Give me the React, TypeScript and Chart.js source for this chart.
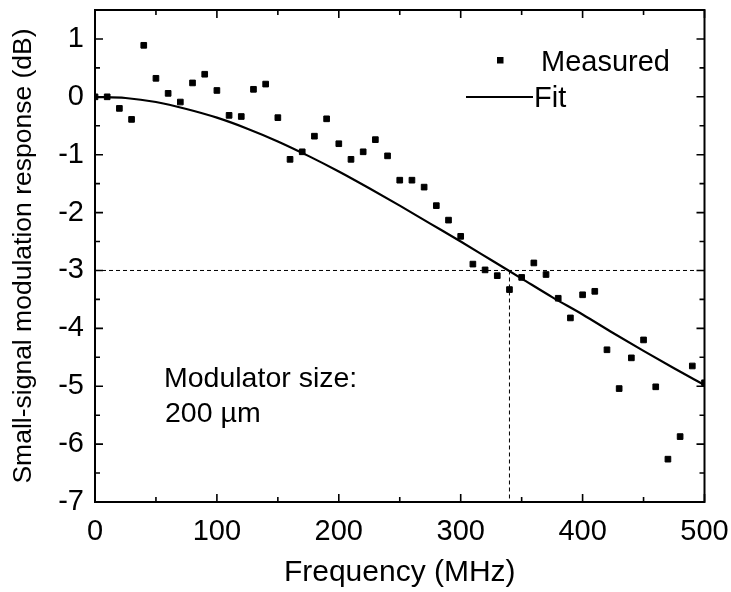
import React, { useEffect, useRef } from "react";
import { Chart, registerables } from "chart.js";

Chart.register(...registerables);

// ---- Data ----
const freqMHz = [
  0, 10, 20, 30, 40, 50, 60, 70, 80, 90,
  100, 110, 120, 130, 140, 150, 160, 170, 180, 190,
  200, 210, 220, 230, 240, 250, 260, 270, 280, 290,
  300, 310, 320, 330, 340, 350, 360, 370, 380, 390,
  400, 410, 420, 430, 440, 450, 460, 470, 480, 490, 500,
];
const measuredDb = [
  0.0, 0.0, -0.2, -0.39, 0.89, 0.32, 0.06, -0.09, 0.24, 0.39,
  0.11, -0.32, -0.34, 0.13, 0.22, -0.36, -1.08, -0.95, -0.68, -0.38,
  -0.81, -1.08, -0.95, -0.74, -1.02, -1.44, -1.44, -1.56, -1.88, -2.13,
  -2.41, -2.89, -2.99, -3.09, -3.33, -3.12, -2.87, -3.07, -3.48, -3.82,
  -3.42, -3.36, -4.37, -5.04, -4.51, -4.2, -5.01, -6.26, -5.87, -4.65, -4.94,
];
const fitFreqMHz = [
  0, 25, 50, 75, 100, 125, 150, 175, 200, 225, 250,
  275, 300, 325, 350, 375, 400, 425, 450, 475, 500,
];
const fitDb = [
  0, -0.02, -0.09, -0.21, -0.36, -0.55, -0.77, -1.02, -1.29, -1.58, -1.88,
  -2.19, -2.5, -2.82, -3.14, -3.46, -3.76, -4.08, -4.39, -4.69, -4.98,
];
const cutoffFreqMHz = 340;
const cutoffDb = -3;

const xMajorTicks = [0, 100, 200, 300, 400, 500];
const xMinorTicks = [50, 150, 250, 350, 450];
const yMajorTicks = [1, 0, -1, -2, -3, -4, -5, -6, -7];
const yMinorTicks = [1.5, 0.5, -0.5, -1.5, -2.5, -3.5, -4.5, -5.5, -6.5];

const X_MIN = 0;
const X_MAX = 500;
const Y_MIN = -7;
const Y_MAX = 1.5;

const FONT = "'Liberation Sans', Arial, Helvetica, sans-serif";

const framePlugin = {
  id: "frame",
  afterDatasetsDraw(chart: any) {
    const { ctx, chartArea, scales } = chart;
    const { left, right, top, bottom } = chartArea;
    const xs = scales.x;
    const ys = scales.y;
    ctx.save();
    ctx.strokeStyle = "#000";
    ctx.lineWidth = 2;
    ctx.lineCap = "butt";
    ctx.strokeRect(left, top, right - left, bottom - top);

    const major = 8;
    const minor = 5;
    ctx.lineWidth = 1.6;
    ctx.beginPath();
    const xt = (v: number, len: number) => {
      const px = xs.getPixelForValue(v);
      ctx.moveTo(px, bottom);
      ctx.lineTo(px, bottom - len);
      ctx.moveTo(px, top);
      ctx.lineTo(px, top + len);
    };
    const yt = (v: number, len: number) => {
      const py = ys.getPixelForValue(v);
      ctx.moveTo(left, py);
      ctx.lineTo(left + len, py);
      ctx.moveTo(right, py);
      ctx.lineTo(right - len, py);
    };
    xMajorTicks.forEach((v) => xt(v, major));
    xMinorTicks.forEach((v) => xt(v, minor));
    yMajorTicks.forEach((v) => yt(v, major));
    yMinorTicks.forEach((v) => yt(v, minor));
    ctx.stroke();

    // legend
    ctx.fillStyle = "#000";
    ctx.font = `29px ${FONT}`;
    ctx.textBaseline = "alphabetic";
    ctx.textAlign = "left";
    ctx.fillRect(497, 57, 6.5, 6.5);
    ctx.fillText("Measured", 541, 71);
    ctx.lineWidth = 2;
    ctx.beginPath();
    ctx.moveTo(466, 97);
    ctx.lineTo(533, 97);
    ctx.stroke();
    ctx.fillText("Fit", 534, 107);

    // annotation
    ctx.font = `28.5px ${FONT}`;
    ctx.fillText("Modulator size:", 164, 387);
    ctx.fillText("200 \u00b5m", 165, 422);
    ctx.restore();
  },
};

export default function App() {
  const ref = useRef<HTMLCanvasElement | null>(null);

  useEffect(() => {
    const canvas = ref.current;
    if (!canvas) return;
    const measured = freqMHz.map((f, i) => ({ x: f, y: measuredDb[i] }));
    const fit = fitFreqMHz.map((f, i) => ({ x: f, y: fitDb[i] }));
    const hLine = [
      { x: X_MIN, y: cutoffDb },
      { x: X_MAX, y: cutoffDb },
    ];
    const vLine = [
      { x: cutoffFreqMHz, y: cutoffDb },
      { x: cutoffFreqMHz, y: Y_MIN },
    ];

    const chart = new Chart(canvas, {
      type: "scatter",
      data: {
        datasets: [
          {
            label: "cutoff-h",
            data: hLine,
            showLine: true,
            borderColor: "#000",
            borderWidth: 1,
            borderDash: [4, 3],
            pointRadius: 0,
          },
          {
            label: "cutoff-v",
            data: vLine,
            showLine: true,
            borderColor: "#000",
            borderWidth: 1,
            borderDash: [4, 3],
            pointRadius: 0,
          },
          {
            label: "Fit",
            data: fit,
            showLine: true,
            borderColor: "#000",
            borderWidth: 2.2,
            pointRadius: 0,
            cubicInterpolationMode: "monotone",
          },
          {
            label: "Measured",
            data: measured,
            showLine: false,
            pointStyle: "rect",
            pointRadius: 4,
            pointBorderWidth: 1,
            pointBackgroundColor: "#000",
            pointBorderColor: "#000",
          },
        ],
      } as any,
      options: {
        animation: false,
        responsive: false,
        maintainAspectRatio: false,
        layout: { padding: { left: 0, top: 10, right: 26.5, bottom: 0 } },
        plugins: {
          legend: { display: false },
          tooltip: { enabled: false },
        },
        scales: {
          x: {
            type: "linear",
            min: X_MIN,
            max: X_MAX,
            grid: { display: false, drawTicks: false },
            border: { display: false },
            ticks: {
              padding: 13,
              color: "#000",
              font: { family: FONT, size: 29 },
              maxRotation: 0,
              callback: (v: any) => String(v),
            },
            afterBuildTicks: (s: any) => {
              s.ticks = xMajorTicks.map((v) => ({ value: v }));
            },
            afterFit: (s: any) => {
              s.height = 90;
              s.paddingLeft = 0;
              s.paddingRight = 0;
            },
            title: {
              display: true,
              text: "Frequency (MHz)",
              color: "#000",
              font: { family: FONT, size: 30 },
              padding: { top: 0, bottom: 1 },
            },
          },
          y: {
            type: "linear",
            min: Y_MIN,
            max: Y_MAX,
            grid: { display: false, drawTicks: false },
            border: { display: false },
            ticks: {
              padding: 11,
              color: "#000",
              font: { family: FONT, size: 29 },
              callback: (v: any) => String(v),
            },
            afterBuildTicks: (s: any) => {
              s.ticks = yMajorTicks.map((v) => ({ value: v }));
            },
            afterFit: (s: any) => {
              s.width = 95;
              s.paddingTop = 0;
              s.paddingBottom = 0;
            },
            title: {
              display: true,
              text: "Small-signal modulation response (dB)",
              color: "#000",
              font: { family: FONT, size: 26.5 },
              padding: { top: 8, bottom: 0 },
            },
          },
        },
      } as any,
      plugins: [framePlugin],
    });
    return () => chart.destroy();
  }, []);

  return (
    <div style={{ position: "absolute", left: 0, top: 0, width: 731, height: 592, background: "#fff" }}>
      <canvas ref={ref} width={731} height={592} style={{ display: "block" }} />
    </div>
  );
}
